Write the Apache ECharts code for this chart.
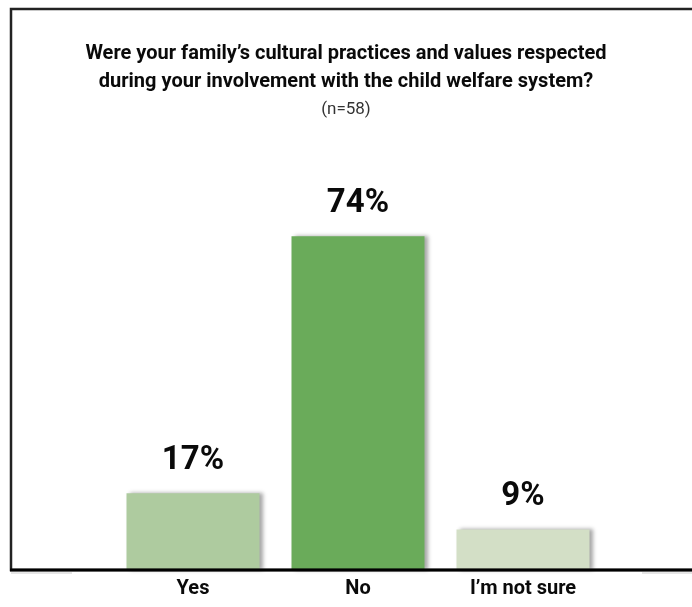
<!DOCTYPE html>
<html><head><meta charset="utf-8">
<script src="https://cdn.jsdelivr.net/npm/echarts@6/dist/echarts.min.js"></script>
<style>html,body{margin:0;padding:0;background:#fff}#c{width:692px;height:607px}</style>
</head><body><div id="c"></div>
<script>
const categories = ["Yes", "No", "I\u2019m not sure"];
const values = [17, 74, 9];
const barColors = ["#AECB9F", "#6AAB5A", "#D3DFC6"];
const titleLines = ["Were your family\u2019s cultural practices and values respected", "during your involvement with the child welfare system?"];
const subtitle = "(n=58)";

const FONT = "'Roboto', sans-serif";
const chart = echarts.init(document.getElementById('c'), null, {renderer: 'canvas'});
chart.setOption({
  animation: false,
  backgroundColor: '#fff',
  title: {
    text: titleLines.join('\n'),
    subtext: subtitle,
    left: 'center',
    top: 35,
    itemGap: 5,
    textStyle: {fontFamily: FONT, fontWeight: 'bold', fontSize: 20, color: '#0a0a0a', lineHeight: 28},
    subtextStyle: {fontFamily: FONT, fontSize: 17, color: '#333'}
  },
  graphic: [
    {type: 'rect', shape: {x: 11, y: 9, width: 720, height: 561}, style: {fill: 'none', stroke: '#222', lineWidth: 2.5}, z: 10},
    {type: 'line', shape: {x1: 10, y1: 570, x2: 700, y2: 570}, style: {stroke: '#000', lineWidth: 3}, z: 11},
    {type: 'line', shape: {x1: 11, y1: 573, x2: 72, y2: 573}, style: {stroke: '#ccc', lineWidth: 1}, z: 9},
    {type: 'line', shape: {x1: 642, y1: 573, x2: 692, y2: 573}, style: {stroke: '#ccc', lineWidth: 1}, z: 9}
  ],
  grid: {left: 110.5, right: 86.5, top: 119, bottom: 37},
  xAxis: {
    type: 'category', data: categories,
    axisLine: {show: false}, axisTick: {show: false},
    axisLabel: {margin: 9, fontFamily: FONT, fontWeight: 'bold', fontSize: 20, color: '#0a0a0a'}
  },
  yAxis: {type: 'value', min: 0, max: 100, show: false, splitLine: {show: false}},
  series: [{
    type: 'bar', barWidth: 133,
    data: values.map((v, i) => ({value: v, itemStyle: {color: barColors[i]}})),
    itemStyle: {shadowColor: 'rgba(0,0,0,0.35)', shadowBlur: 4, shadowOffsetX: 3, shadowOffsetY: 0},
    label: {show: true, position: 'top', distance: 16, formatter: '{c}%', fontFamily: FONT, fontWeight: 'bold', fontSize: 33, color: '#0a0a0a'}
  }]
});
</script></body></html>
